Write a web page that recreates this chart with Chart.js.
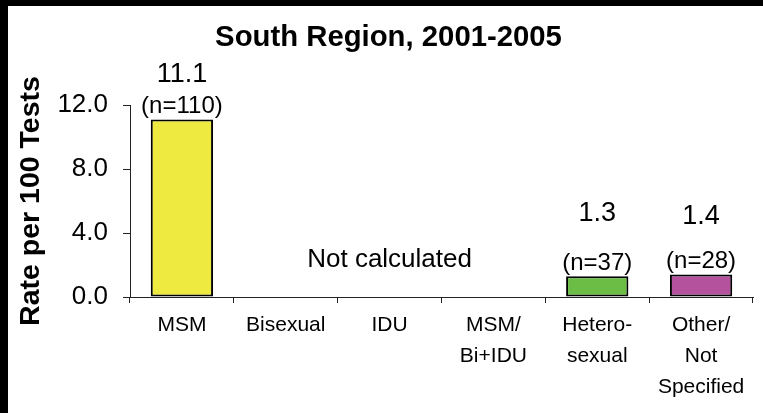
<!DOCTYPE html>
<html>
<head>
<meta charset="utf-8">
<script src="https://cdn.jsdelivr.net/npm/chart.js@4.4.1/dist/chart.umd.min.js"></script>
<style>
    html, body { margin: 0; padding: 0; background: #fff; }
    #frame {
        width: 755px;
        height: 407px;
        border-top: 6px solid #000;
        border-left: 8px solid #000;
        background: #fff;
    }
    canvas { display: block; }
</style>
</head>
<body>
<div id="frame"><canvas id="chart" width="755" height="407"></canvas></div>
<script>
// Chart data
const categories = ['MSM', 'Bisexual', 'IDU', ['MSM/', 'Bi+IDU'], ['Hetero-', 'sexual'], ['Other/', 'Not', 'Specified']];
const rates = [11.1, null, null, null, 1.3, 1.4];
const counts = [110, null, null, null, 37, 28];
const barColors = ['#EEEA40', null, null, null, '#6CBD45', '#B4529E'];
const yTicks = [0, 4, 8, 12];
const chartTitle = 'South Region, 2001-2005';
const yTitle = 'Rate per 100 Tests';
const noDataNote = 'Not calculated';
const noDataIndex = 2;

const FONT = "'Liberation Sans', Arial, sans-serif";
Chart.defaults.font.family = FONT;
Chart.defaults.color = '#000';

/**
 * Draws the rate and (n=...) labels above each bar plus the
 * "Not calculated" note across the empty categories.
 */
const barLabels = {
    id: 'barLabels',
    afterDatasetsDraw(chart) {
        const ctx = chart.ctx;
        const meta = chart.getDatasetMeta(0);
        const xScale = chart.scales.x;
        const yScale = chart.scales.y;
        // how far above the bar top the rate label sits
        const rateLift = [45, 0, 0, 0, 63, 58];

        ctx.save();
        ctx.fillStyle = '#000';
        ctx.textAlign = 'center';
        ctx.textBaseline = 'middle';
        rates.forEach((v, i) => {
            if (v === null) return;
            const bar = meta.data[i];
            ctx.font = '27px ' + FONT;
            ctx.fillText(v.toFixed(1), bar.x, bar.y - rateLift[i]);
            ctx.font = '24px ' + FONT;
            ctx.fillText('(n=' + counts[i] + ')', bar.x, bar.y - 13);
        });
        ctx.font = '26px ' + FONT;
        ctx.fillText(noDataNote, xScale.getPixelForValue(noDataIndex), yScale.bottom - 37);
        ctx.restore();
    }
};

new Chart(document.getElementById('chart'), {
    type: 'bar',
    data: {
        labels: categories,
        datasets: [{
            data: rates,
            backgroundColor: barColors,
            borderColor: '#000',
            borderWidth: 2,
            borderSkipped: false,
            barPercentage: 0.6,
            categoryPercentage: 1
        }]
    },
    options: {
        responsive: false,
        animation: false,
        layout: {
            padding: { top: 0, right: 10, bottom: 0, left: 16 }
        },
        plugins: {
            legend: { display: false },
            tooltip: { enabled: false },
            title: {
                display: true,
                text: chartTitle,
                color: '#000',
                font: { size: 29.3, weight: 'bold' },
                padding: { top: 14, bottom: 49.84 }
            }
        },
        scales: {
            x: {
                grid: {
                    offset: true,
                    drawOnChartArea: false,
                    drawTicks: true,
                    tickLength: 6,
                    color: '#222'
                },
                border: { color: '#222', width: 1 },
                ticks: {
                    color: '#000',
                    font: { size: 21, lineHeight: 1.48 },
                    padding: 7,
                    maxRotation: 0,
                    autoSkip: false
                },
                afterFit(scale) {
                    scale.height = 116;
                }
            },
            y: {
                min: 0,
                max: 12,
                grid: {
                    drawOnChartArea: false,
                    drawTicks: true,
                    tickLength: 7,
                    color: '#222'
                },
                border: { color: '#222', width: 1 },
                afterBuildTicks(scale) {
                    scale.ticks = yTicks.map(v => ({ value: v }));
                },
                ticks: {
                    color: '#000',
                    font: { size: 26 },
                    padding: 15,
                    callback: v => Number(v).toFixed(1)
                },
                title: {
                    display: true,
                    text: yTitle,
                    color: '#000',
                    font: { size: 28.5, weight: 'bold' },
                    padding: { top: -10, bottom: 0 }
                },
                afterFit(scale) {
                    scale.width = 106;
                }
            }
        }
    },
    plugins: [barLabels]
});
</script>
</body>
</html>
